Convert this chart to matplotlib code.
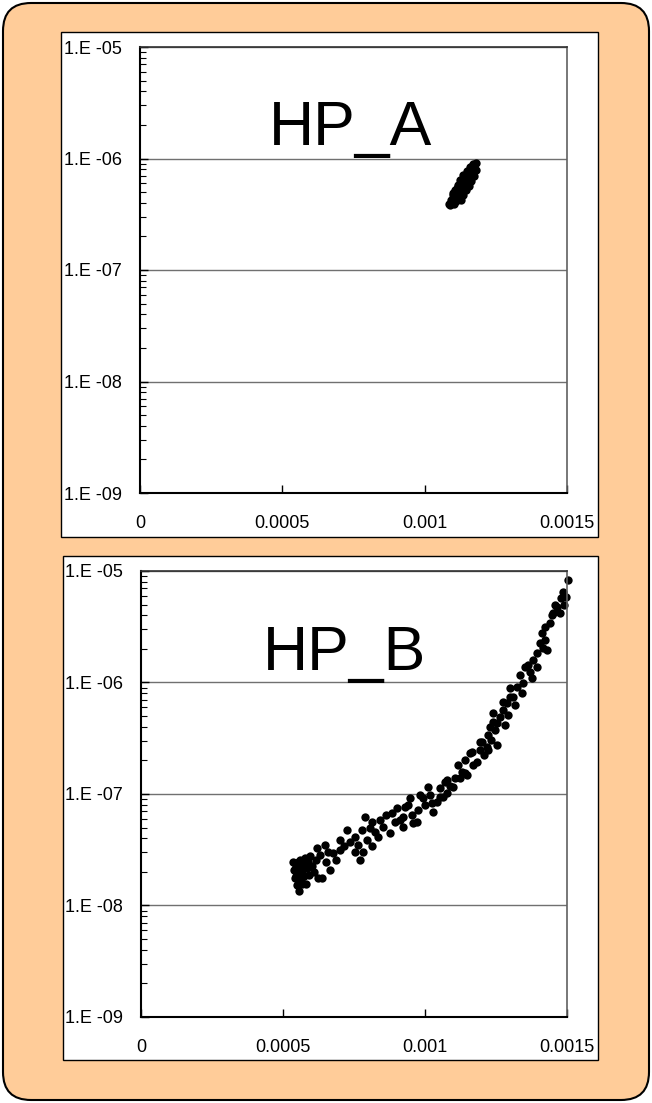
import numpy as np
import matplotlib
matplotlib.use("Agg")
import matplotlib.pyplot as plt
from matplotlib.patches import FancyBboxPatch, Rectangle
from matplotlib.transforms import IdentityTransform
from matplotlib.ticker import LogLocator, FixedLocator, FuncFormatter, NullFormatter

plt.rcParams['font.family'] = ['Liberation Sans', 'DejaVu Sans']

# HP_A cluster (x in units of 1e-4)
a_x4 = [11.80, 11.70, 11.59, 11.80, 11.66, 11.49, 11.35, 11.52, 11.73, 11.24,
        11.42, 11.63, 11.17, 11.35, 11.56, 11.07, 11.24, 11.45, 11.00, 11.17,
        11.35, 10.93, 11.10, 11.28, 10.85, 11.03, 10.89,
        11.75, 11.62, 11.45, 11.30, 11.12, 10.98, 11.50, 11.38, 11.20, 11.05]
a_y = [9.1e-7, 8.9e-7, 8.4e-7, 7.9e-7, 7.7e-7, 7.7e-7, 7.1e-7, 6.97e-7, 6.97e-7, 6.4e-7,
       6.28e-7, 6.28e-7, 5.78e-7, 5.67e-7, 5.67e-7, 5.22e-7, 5.11e-7, 5.22e-7, 4.7e-7, 4.61e-7,
       4.7e-7, 4.24e-7, 4.16e-7, 4.24e-7, 3.91e-7, 3.91e-7, 3.8e-7,
       8.5e-7, 7.3e-7, 6.6e-7, 6.0e-7, 5.4e-7, 4.9e-7, 5.9e-7, 5.4e-7, 4.9e-7, 4.4e-7]

# HP_B scatter (x in units of 1e-4)
b_x4 = [5.35, 5.39, 5.42, 5.46, 5.49, 5.53, 5.56, 5.60, 5.60, 5.63,
        5.67, 5.70, 5.74, 5.77, 5.81, 5.84, 5.88, 5.92, 5.95, 6.02,
        6.09, 6.16, 6.20, 6.23, 6.30, 6.37, 6.48, 6.51, 6.58, 6.65,
        6.76, 6.87, 7.01, 7.01, 7.15, 7.25, 7.36, 7.53, 7.53, 7.64,
        7.71, 7.78, 7.82, 7.89, 7.96, 8.06, 8.13, 8.13, 8.24, 8.34,
        8.42, 8.52, 8.63, 8.77, 8.84, 8.94, 9.01, 9.12, 9.23, 9.23,
        9.30, 9.40, 9.47, 9.54, 9.58, 9.72, 9.75, 9.82, 9.93, 10.00,
        10.11, 10.18, 10.25, 10.28, 10.42, 10.53, 10.53, 10.63, 10.70, 10.77,
        10.77, 10.88, 10.99, 11.06, 11.16, 11.23, 11.30, 11.41, 11.41, 11.48,
        11.58, 11.65, 11.69, 11.83, 11.94, 11.94, 12.01, 12.08, 12.18, 12.22,
        12.22, 12.29, 12.32, 12.39, 12.39, 12.46, 12.53, 12.53, 12.64, 12.75,
        12.75, 12.82, 12.89, 12.92, 12.99, 12.99, 13.10, 13.17, 13.24, 13.34,
        13.41, 13.45, 13.52, 13.63, 13.70, 13.77, 13.80, 13.94, 13.94, 14.05,
        14.12, 14.15, 14.22, 14.22, 14.30, 14.40, 14.47, 14.51, 14.58, 14.65,
        14.75, 14.79, 14.86, 14.89, 14.96, 15.03,
        5.42, 5.53, 5.67, 5.74, 5.46]
b_y = [2.45e-8, 2.09e-8, 1.77e-8, 2.26e-8, 1.53e-8, 1.92e-8, 1.35e-8, 2.56e-8, 2.17e-8, 1.70e-8,
       2.00e-8, 2.36e-8, 1.84e-8, 2.67e-8, 1.56e-8, 2.17e-8, 2.45e-8, 1.88e-8, 2.78e-8, 2.26e-8,
       2.00e-8, 2.56e-8, 3.28e-8, 1.77e-8, 2.84e-8, 1.77e-8, 3.49e-8, 2.45e-8, 3.01e-8, 2.09e-8,
       2.96e-8, 2.56e-8, 3.87e-8, 3.15e-8, 3.42e-8, 4.76e-8, 3.71e-8, 4.12e-8, 3.01e-8, 3.49e-8,
       2.56e-8, 4.76e-8, 3.01e-8, 6.22e-8, 3.87e-8, 4.96e-8, 5.61e-8, 3.42e-8, 4.56e-8, 4.12e-8,
       5.85e-8, 5.06e-8, 6.49e-8, 4.47e-8, 6.76e-8, 5.61e-8, 7.49e-8, 5.85e-8, 5.06e-8, 6.22e-8,
       7.64e-8, 7.97e-8, 9.2e-8, 6.49e-8, 5.50e-8, 5.61e-8, 7.19e-8, 9.8e-8, 9.2e-8, 7.97e-8,
       1.16e-7, 9.8e-8, 8.3e-8, 6.9e-8, 8.5e-8, 1.13e-7, 9.4e-8, 9.4e-8, 1.28e-7, 1.34e-7,
       1.02e-7, 1.18e-7, 1.16e-7, 1.39e-7, 1.82e-7, 1.39e-7, 1.57e-7, 2.02e-7, 1.55e-7, 1.48e-7,
       2.34e-7, 2.38e-7, 1.82e-7, 1.94e-7, 2.93e-7, 2.48e-7, 2.93e-7, 2.24e-7, 2.64e-7, 3.38e-7,
       2.48e-7, 4.0e-7, 3.05e-7, 5.3e-7, 4.42e-7, 3.75e-7, 4.33e-7, 2.75e-7, 4.9e-7, 6.7e-7,
       5.67e-7, 4.16e-7, 6.55e-7, 5.11e-7, 8.9e-7, 7.4e-7, 7.4e-7, 6.28e-7, 9.1e-7, 1.17e-6,
       8.05e-7, 9.9e-7, 1.38e-6, 1.43e-6, 1.24e-6, 1.10e-6, 1.59e-6, 1.84e-6, 1.38e-6, 2.26e-6,
       2.78e-6, 2.04e-6, 3.15e-6, 2.41e-6, 1.96e-6, 3.42e-6, 4.03e-6, 4.2e-6, 4.96e-6, 4.76e-6,
       4.2e-6, 5.73e-6, 6.49e-6, 4.96e-6, 5.85e-6, 8.3e-6,
       2.09e-8, 2.45e-8, 1.56e-8, 2.26e-8, 1.84e-8]

x_ticks = [0, 0.0005, 0.001, 0.0015]
x_labels = ["0", "0.0005", "0.001", "0.0015"]
y_ticks = [1e-9, 1e-8, 1e-7, 1e-6, 1e-5]
titles = ["HP_A", "HP_B"]

W, H = 652, 1103
fig = plt.figure(figsize=(W / 100, H / 100), dpi=100)
fig.patch.set_facecolor("white")

# outer rounded orange box (pixel coords, origin bottom-left)
bg = FancyBboxPatch((3, 3), W - 6, H - 6, boxstyle="round,pad=0,rounding_size=28",
                    facecolor="#FFCC99", edgecolor="black", linewidth=1.5,
                    transform=IdentityTransform(), zorder=-3)
fig.patches.append(bg)

# white chart panels
for (x0, y0, x1, y1) in [(61, 32, 598, 537), (63, 556, 598, 1060)]:
    r = Rectangle((x0, H - y1), x1 - x0, y1 - y0, facecolor="white", edgecolor="black",
                  linewidth=1.0, transform=IdentityTransform(), zorder=-2)
    fig.patches.append(r)

axes_px = [(140, 47, 567, 493), (141, 571, 567, 1017)]
data = [(a_x4, a_y), (b_x4, b_y)]
text_pos = [(0.494, 0.780), (0.477, 0.778)]

for i, (x0, y0, x1, y1) in enumerate(axes_px):
    ax = fig.add_axes([x0 / W, 1 - y1 / H, (x1 - x0) / W, (y1 - y0) / H])
    xs = np.array(data[i][0]) * 1e-4
    ax.plot(xs, data[i][1], 'o', color='black', ms=6, mew=0, clip_on=False)
    ax.set_yscale('log')
    ax.set_ylim(1e-9, 1e-5)
    ax.set_xlim(0, 0.0015)
    ax.yaxis.set_major_locator(FixedLocator(y_ticks))
    ax.yaxis.set_minor_locator(LogLocator(base=10, subs=np.arange(2, 10), numticks=10))
    ax.yaxis.set_minor_formatter(NullFormatter())
    ax.yaxis.set_major_formatter(FuncFormatter(
        lambda v, p: "1.E -%02d" % int(round(-np.log10(v)))))
    ax.xaxis.set_major_locator(FixedLocator(x_ticks))
    ax.set_xticklabels(x_labels)
    ax.tick_params(axis='y', which='major', direction='in', length=6, width=1,
                   labelsize=13, pad=13)
    ax.tick_params(axis='y', which='minor', direction='in', length=4, width=0.8)
    ax.tick_params(axis='x', which='major', direction='in', length=6, width=1,
                   labelsize=13, pad=16)
    ax.grid(True, axis='y', which='major', color='#707070', linewidth=1)
    ax.set_axisbelow(True)
    for s in ['left', 'bottom']:
        ax.spines[s].set_linewidth(1.5)
        ax.spines[s].set_color('black')
    ax.spines['top'].set_linewidth(1.2)
    ax.spines['top'].set_color('#303030')
    ax.spines['right'].set_linewidth(1.2)
    ax.spines['right'].set_color('#606060')
    ax.text(text_pos[i][0], text_pos[i][1], titles[i], transform=ax.transAxes,
            ha='center', va='baseline', fontsize=45)

fig.savefig("out.png", dpi=100)
